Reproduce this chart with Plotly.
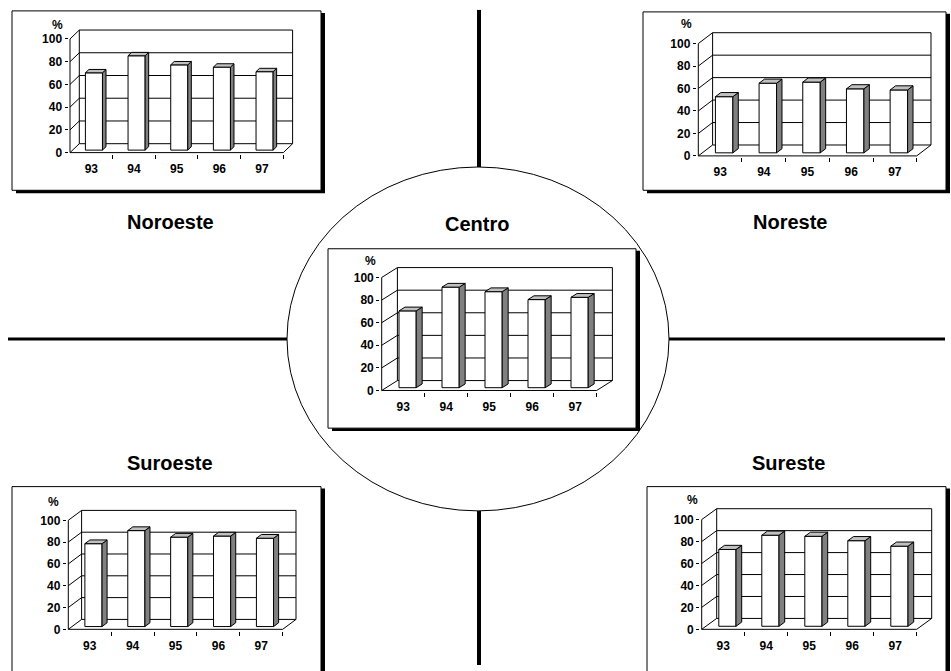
import plotly.graph_objects as go

# Percentages per region and year
years = ["93", "94", "95", "96", "97"]
noroeste = [68, 83, 75, 73, 69]
noreste = [50, 62, 63, 57, 56]
centro = [68, 89, 85, 78, 80]
suroeste = [76, 88, 82, 83, 81]
sureste = [70, 83, 82, 78, 73]
y_ticks = [0, 20, 40, 60, 80, 100]

W, H = 951, 671
FONT = "Liberation Sans, Arial, sans-serif"

# Frame geometry in pixels: front axis x, front floor right end, y of 0, y of 100,
# depth offset (dx, dy); panel box; position of the "%" label; region title position
panels = [
    dict(name="Noroeste", values=noroeste, geo=(70, 283.3, 154, 39.3, 9.3, 9),
         box=(12, 11, 321, 192), pct=(57, 25), title=(170, 224)),
    dict(name="Noreste", values=noreste, geo=(698.3, 916.7, 157.3, 44, 14.3, 11),
         box=(643, 12, 946, 192), pct=(686, 24), title=(790, 224)),
    dict(name="Centro", values=centro, geo=(381.7, 596.7, 394, 280, 15.7, 10),
         box=(328, 251, 636, 432), pct=(370, 263), title=(477, 226)),
    dict(name="Suroeste", values=suroeste, geo=(68.3, 282.7, 635, 525, 13.3, 10),
         box=(12, 491, 321, 690), pct=(53, 507), title=(170, 467)),
    dict(name="Sureste", values=sureste, geo=(701.7, 916.7, 635, 524.3, 15, 11),
         box=(647, 491, 946, 690), pct=(692, 505), title=(788, 467)),
]

BAR_W = 0.4      # column width in category units
FRONT = 0.28     # depth fraction where the column front face sits
DEPTH = 0.38     # column depth as a fraction of the chart depth
SIDE = "#808080"
TOP = "#c0c0c0"
PAD = 1.5


def px(x):
    return x / W


def py(y):
    return 1 - y / H


fig = go.Figure()
layout = dict(
    width=W, height=H, autosize=False,
    margin=dict(l=0, r=0, t=0, b=0),
    paper_bgcolor="white", plot_bgcolor="rgba(0,0,0,0)",
    showlegend=False, shapes=[], annotations=[],
    font=dict(family=FONT, color="black"),
)

# Decorative cross, circle and panel boxes
cx, cy, rx, ry = 478, 342, 191, 173.5
layout["shapes"] += [
    dict(type="line", xref="paper", yref="paper", x0=px(479), x1=px(479),
         y0=py(10), y1=py(cy - ry), line=dict(color="black", width=4), layer="below"),
    dict(type="line", xref="paper", yref="paper", x0=px(479), x1=px(479),
         y0=py(cy + ry), y1=py(H), line=dict(color="black", width=4), layer="below"),
    dict(type="line", xref="paper", yref="paper", x0=px(8), x1=px(cx - rx),
         y0=py(cy), y1=py(cy), line=dict(color="black", width=3), layer="below"),
    dict(type="line", xref="paper", yref="paper", x0=px(cx + rx), x1=px(945),
         y0=py(cy), y1=py(cy), line=dict(color="black", width=3), layer="below"),
    dict(type="circle", xref="paper", yref="paper", x0=px(cx - rx), x1=px(cx + rx),
         y0=py(cy - ry), y1=py(cy + ry), line=dict(color="black", width=1),
         fillcolor="white", layer="below"),
]

for k, p in enumerate(panels, start=1):
    ax, fr, y0, y100, dx, dy = p["geo"]
    sx = 5 / (fr - ax)
    sy = 100 / (y0 - y100)
    Dx, Dy = dx * sx, dy * sy
    xr_ = [-PAD * sx, 5 + Dx + PAD * sx]
    yr_ = [-PAD * sy, 100 + Dy + PAD * sy]
    xdom = [px(ax - PAD), px(fr + dx + PAD)]
    ydom = [py(y0 + PAD), py(y100 - dy - PAD)]

    bx = "x" if k == 1 else f"x{k}"
    by = "y" if k == 1 else f"y{k}"
    ox, oy = f"x{k + 5}", f"y{k + 5}"

    layout[f"xaxis{'' if k == 1 else k}"] = dict(
        domain=xdom, range=xr_, anchor=by, showgrid=False, zeroline=False,
        showline=False, tickmode="array", tickvals=[i + 0.5 for i in range(5)],
        ticktext=years, ticks="", ticklabelstandoff=6,
        tickfont=dict(family=FONT, size=12, weight="bold", color="black"),
        minor=dict(tickmode="array", tickvals=[1, 2, 3, 4, 5], ticks="outside",
                   ticklen=4, tickcolor="black", tickwidth=1, showgrid=False),
        fixedrange=True,
    )
    layout[f"yaxis{'' if k == 1 else k}"] = dict(
        domain=ydom, range=yr_, anchor=bx, showgrid=False, zeroline=False,
        showline=False, tickmode="array", tickvals=y_ticks, ticks="outside",
        ticklen=3, tickcolor="black", tickwidth=1, ticklabelstandoff=0,
        tickfont=dict(family=FONT, size=12, weight="bold", color="black"),
        fixedrange=True,
    )
    layout[f"xaxis{k + 5}"] = dict(overlaying=bx, range=xr_, anchor=oy,
                                   visible=False, fixedrange=True)
    layout[f"yaxis{k + 5}"] = dict(overlaying=by, range=yr_, anchor=ox,
                                   visible=False, fixedrange=True)

    # Frame: back wall, gridlines, side wall, floor and front value axis
    lx, ly = [], []

    def seg(x_a, y_a, x_b, y_b):
        lx.extend([x_a, x_b, None])
        ly.extend([y_a, y_b, None])

    seg(Dx, Dy, Dx, 100 + Dy)
    seg(Dx, 100 + Dy, 5 + Dx, 100 + Dy)
    seg(5 + Dx, 100 + Dy, 5 + Dx, Dy)
    for v in y_ticks[:-1]:
        seg(Dx, v + Dy, 5 + Dx, v + Dy)
    for v in y_ticks:
        seg(0, v, Dx, v + Dy)
    seg(0, 0, 5, 0)
    seg(5, 0, 5 + Dx, Dy)
    seg(0, 0, 0, 100)
    fig.add_trace(go.Scatter(x=lx, y=ly, mode="lines", xaxis=bx, yaxis=by,
                             line=dict(color="black", width=1), hoverinfo="skip"))

    # Columns: front face as bars, side and top faces as filled polygons
    vals = p["values"]
    centres = [i + 0.5 + FRONT * Dx for i in range(5)]
    fig.add_trace(go.Bar(
        x=centres, y=vals, base=FRONT * Dy, width=BAR_W, xaxis=ox, yaxis=oy,
        marker=dict(color="white", line=dict(color="black", width=1)),
        hovertext=years, name=p["name"],
    ))
    sxs, sys_, txs, tys = [], [], [], []
    for c, v in zip(centres, vals):
        xl, xr = c - BAR_W / 2, c + BAR_W / 2
        yb, yt = FRONT * Dy, v + FRONT * Dy
        ddx, ddy = DEPTH * Dx, DEPTH * Dy
        sxs += [xr, xr + ddx, xr + ddx, xr, xr, None]
        sys_ += [yb, yb + ddy, yt + ddy, yt, yb, None]
        txs += [xl, xr, xr + ddx, xl + ddx, xl, None]
        tys += [yt, yt, yt + ddy, yt + ddy, yt, None]
    fig.add_trace(go.Scatter(x=sxs, y=sys_, mode="lines", fill="toself",
                             fillcolor=SIDE, line=dict(color="black", width=1),
                             xaxis=ox, yaxis=oy, hoverinfo="skip"))
    fig.add_trace(go.Scatter(x=txs, y=tys, mode="lines", fill="toself",
                             fillcolor=TOP, line=dict(color="black", width=1),
                             xaxis=ox, yaxis=oy, hoverinfo="skip"))

    # Panel box with drop shadow
    x0, y0b, x1, y1b = p["box"]
    layout["shapes"] += [
        dict(type="rect", xref="paper", yref="paper", x0=px(x0 + 4), x1=px(x1 + 4),
             y0=py(y0b + 2), y1=py(y1b + 3), fillcolor="black",
             line=dict(width=0), layer="below"),
        dict(type="rect", xref="paper", yref="paper", x0=px(x0), x1=px(x1),
             y0=py(y0b), y1=py(y1b), fillcolor="white",
             line=dict(color="black", width=1), layer="below"),
    ]
    layout["annotations"].append(dict(
        text="%", xref="paper", yref="paper", x=px(p["pct"][0]), y=py(p["pct"][1]),
        xanchor="center", yanchor="middle", showarrow=False,
        font=dict(family=FONT, size=12, weight="bold", color="black")))
    layout["annotations"].append(dict(
        text=p["name"], xref="paper", yref="paper", x=px(p["title"][0]),
        y=py(p["title"][1]), xanchor="center", yanchor="middle", showarrow=False,
        font=dict(family=FONT, size=20, weight="bold", color="black")))

fig.update_layout(**layout)
fig.write_html("out.html")
